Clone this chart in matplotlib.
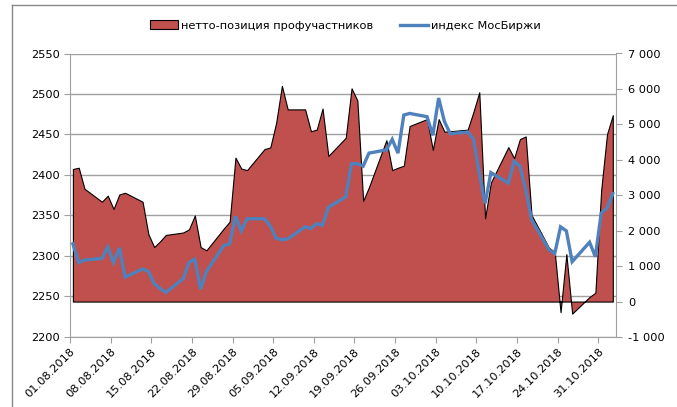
import numpy as np
import pandas as pd
import matplotlib
matplotlib.use('Agg')
import matplotlib.pyplot as plt
import matplotlib.dates as mdates
from matplotlib.patches import Patch
from matplotlib.lines import Line2D
from matplotlib.ticker import FuncFormatter, MultipleLocator

plt.rcParams['font.family'] = ['DejaVu Sans']
plt.rcParams['font.size'] = 8.2

# trading days 01.08.2018 - 02.11.2018
aug = [1, 2, 3, 6, 7, 8, 9, 10, 13, 14, 15, 16, 17, 20, 21, 22, 23, 24, 27, 28, 29, 30, 31]
sep = [3, 4, 5, 6, 7, 10, 11, 12, 13, 14, 17, 18, 19, 20, 21, 24, 25, 26, 27, 28]
oct_ = [1, 2, 3, 4, 5, 8, 9, 10, 11, 12, 15, 16, 17, 18, 19, 22, 23, 24, 25, 26, 29, 30, 31]
nov = [1, 2]
dates = ([pd.Timestamp(2018, 8, d) for d in aug] + [pd.Timestamp(2018, 9, d) for d in sep] +
         [pd.Timestamp(2018, 10, d) for d in oct_] + [pd.Timestamp(2018, 11, d) for d in nov])

# netto-position (right axis)
netto = [3741, 3777, 3183, 2817, 2989, 2611, 3023, 3069, 2817, 1903,
         1537, 1697, 1880, 1949, 2040, 2429, 1537, 1446, 2063, 2255,
         4061, 3754, 3709, 4303, 4349, 5034, 6086, 5423, 5423, 4806,
         4851, 5446, 4109, 4623, 6017, 5674, 2840, 3229, 4554, 3709,
         3777, 3834, 4954, 5149, 4280, 5149, 4794, 4806, 4851, 5354,
         5906, 2349, 3358, 4358, 4047, 4585, 4660, 2443, 1520, 1400,
         -300, 1340, -340, 130, 250, 3150, 4720, 5260]

# MOEX index (left axis)
moex = [2315, 2292, 2295, 2297, 2311, 2292, 2310, 2274, 2284, 2281,
        2266, 2260, 2255, 2272, 2292, 2296, 2259, 2281, 2313, 2315,
        2349, 2331, 2346, 2346, 2337, 2322, 2320, 2321, 2336, 2334,
        2340, 2338, 2360, 2373, 2414, 2414, 2411, 2427, 2431, 2444,
        2427, 2474, 2476, 2472, 2449, 2495, 2466, 2451, 2453, 2445,
        2402, 2365, 2403, 2390, 2417, 2411, 2382, 2345, 2308, 2303,
        2336, 2331, 2293, 2317, 2299, 2353, 2359, 2377]

labels = ['нетто-позиция профучастников', 'индекс МосБиржи']

red = '#C0504D'
blue = '#4F81BD'
gray = '#A0A0A0'

x = mdates.date2num(dates) + 0.5

fig = plt.figure(figsize=(6.77, 4.07), dpi=100)
rect = [70 / 677, 1 - 337 / 407, (615.7 - 70) / 677, (337 - 53.5) / 407]
ax = fig.add_axes(rect)
ax2 = ax.twinx()
ax3 = ax.twinx()

# left axis with grid
ax.set_ylim(2200, 2550)
ax.yaxis.set_major_locator(MultipleLocator(50))
ax.grid(axis='y', color=gray, linewidth=1)
ax.set_axisbelow(True)
ax.set_xlim(mdates.date2num(pd.Timestamp(2018, 8, 1)), mdates.date2num(pd.Timestamp(2018, 11, 3)))
ticks = mdates.date2num(pd.date_range('2018-08-01', '2018-10-31', freq='7D'))
ax.set_xticks(ticks)
ax.xaxis.set_major_formatter(mdates.DateFormatter('%d.%m.%Y'))
for lab in ax.get_xticklabels():
    lab.set_rotation(45)
    lab.set_ha('right')
    lab.set_rotation_mode('anchor')
ax.tick_params(axis='both', direction='out', length=4, color=gray, pad=3)
for s in ['top', 'right']:
    ax.spines[s].set_visible(False)
for s in ['left', 'bottom']:
    ax.spines[s].set_color(gray)

# right axis: area
ax2.fill_between(x, 0, netto, facecolor=red, edgecolor='black', linewidth=0.8)
ax2.set_ylim(-1000, 7000)
ax2.yaxis.set_major_locator(MultipleLocator(1000))
ax2.yaxis.set_major_formatter(FuncFormatter(lambda v, p: '{:,.0f}'.format(v).replace(',', '\u00a0')))
ax2.tick_params(axis='y', direction='out', length=4, color=gray, pad=5)
for s in ['top', 'left', 'bottom']:
    ax2.spines[s].set_visible(False)
ax2.spines['right'].set_color(gray)

# line on top, left scale
ax3.plot(x, moex, color=blue, linewidth=2.4, solid_joinstyle='miter')
ax3.set_ylim(ax.get_ylim())
ax3.set_yticks([])
for s in ax3.spines.values():
    s.set_visible(False)

handles = [Patch(facecolor=red, edgecolor='black', linewidth=0.8),
           Line2D([], [], color=blue, linewidth=2.4)]
fig.legend(handles, labels, ncol=2, loc='center', bbox_to_anchor=(0.51, 0.937),
           frameon=False, handlelength=2.5, handleheight=0.8, handletextpad=0.25,
           columnspacing=2.3)

# chart border
fig.add_artist(Line2D([12 / 677, 1], [1 - 4.7 / 407] * 2, color='#888888', linewidth=1, transform=fig.transFigure))
fig.add_artist(Line2D([12 / 677] * 2, [0, 1 - 4.7 / 407], color='#888888', linewidth=1, transform=fig.transFigure))

fig.savefig('out.png', dpi=100)
